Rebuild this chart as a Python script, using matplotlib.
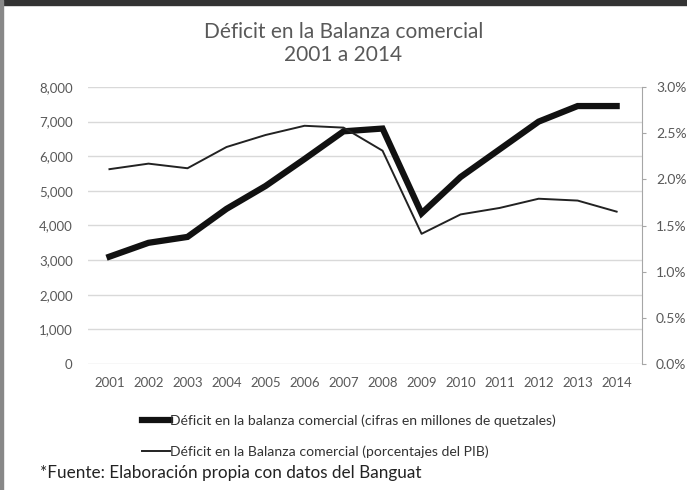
import matplotlib.pyplot as plt
from matplotlib.patches import Rectangle
from matplotlib.ticker import FuncFormatter, MultipleLocator

plt.rcParams["font.family"] = ["Lato", "DejaVu Sans"]

years = list(range(2001, 2015))
# deficit in millions of quetzales (left axis)
deficit_q = [3100, 3500, 3670, 4480, 5140, 5920, 6720, 6800, 4350, 5400, 6200, 7000, 7450, 7450]
# deficit as percentage of GDP (right axis)
deficit_pib = [2.11, 2.17, 2.12, 2.35, 2.48, 2.58, 2.56, 2.31, 1.41, 1.62, 1.69, 1.79, 1.77, 1.65]

label_q = "Déficit en la balanza comercial (cifras en millones de quetzales)"
label_pib = "Déficit en la Balanza comercial (porcentajes del PIB)"

grey = "#595959"

fig = plt.figure(figsize=(6.87, 4.9), dpi=100)
# dark frame strips of the screenshot
fig.patches.append(Rectangle((0, 0.99), 1, 0.01, transform=fig.transFigure, color="#333333", zorder=0))
fig.patches.append(Rectangle((0, 0), 0.004, 1, transform=fig.transFigure, color="#888888", zorder=0))

ax = fig.add_axes([88 / 687, 1 - 364 / 490, (642 - 88) / 687, (364 - 87) / 490])
ax2 = ax.twinx()

ax.plot(years, deficit_q, color="#111111", lw=4.5, solid_joinstyle="miter", zorder=3)
ax2.plot(years, deficit_pib, color="#222222", lw=1.4, zorder=3)

ax.set_xlim(2000.45, 2014.65)
ax.set_ylim(0, 8000)
ax2.set_ylim(0, 3.0)
ax.set_xticks(years)
ax.yaxis.set_major_locator(MultipleLocator(1000))
ax2.yaxis.set_major_locator(MultipleLocator(0.5))
ax.yaxis.set_major_formatter(FuncFormatter(lambda v, p: f"{int(v):,}"))
ax2.yaxis.set_major_formatter(FuncFormatter(lambda v, p: f"{v:.1f}%"))
ax.grid(axis="y", color="#d9d9d9", lw=1)
ax.set_axisbelow(True)

for a in (ax, ax2):
    for s in a.spines.values():
        s.set_visible(False)
ax2.spines["right"].set_visible(True)
ax2.spines["right"].set_color("#a6a6a6")
ax.tick_params(axis="y", length=0, pad=11, labelsize=9.5, labelcolor=grey)
ax.tick_params(axis="x", length=0, pad=9, labelsize=9.5, labelcolor=grey)
ax2.tick_params(axis="y", length=3, color="#a6a6a6", pad=7, labelsize=10, labelcolor=grey)

fig.text(0.5, 1 - 32 / 490, "Déficit en la Balanza comercial", ha="center", va="center",
         fontsize=15, color=grey)
fig.text(0.5, 1 - 55 / 490, "2001 a 2014", ha="center", va="center", fontsize=15, color=grey)

h1, = ax.plot([], [], color="#111111", lw=4.5)
h2, = ax.plot([], [], color="#222222", lw=1.4)
fig.legend([h1, h2], [label_q, label_pib], loc="center left", bbox_to_anchor=(129 / 687, 1 - 436 / 490),
           frameon=False, fontsize=10.1, handlelength=2.0, handletextpad=0.05, labelspacing=1.3,
           labelcolor="#333333")

fig.text(40 / 687, 1 - 473 / 490, "*Fuente: Elaboración propia con datos del Banguat", ha="left",
         va="center", fontsize=12.3, color="#222222")

fig.savefig("out.png", dpi=100)
